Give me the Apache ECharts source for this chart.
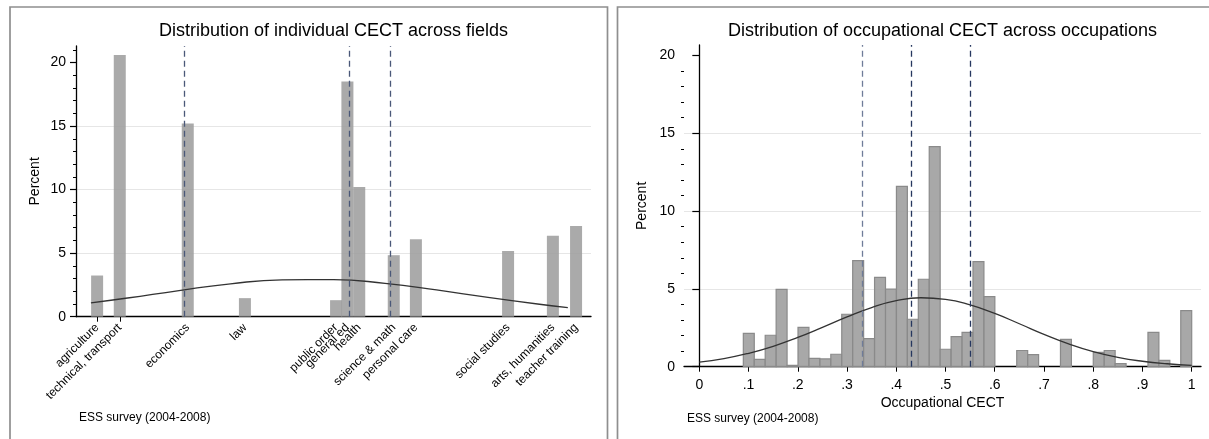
<!DOCTYPE html>
<html><head><meta charset="utf-8">
<script src="https://cdn.jsdelivr.net/npm/echarts@6/dist/echarts.min.js"></script>
<style>html,body{margin:0;padding:0;background:#fff}#c{width:1209px;height:439px}</style>
</head><body><div id="c"></div>
<script>
// ---- Left panel: individual CECT across fields ----
const fieldNames = ["agriculture","technical, transport","economics","law","public order","general ed","health","science & math","personal care","social studies","arts, humanities","teacher training"];
const fieldPos = [0.041,0.085,0.217,0.328,0.505,0.527,0.550,0.617,0.660,0.839,0.926,0.971];
const fieldPct = [3.24,20.6,15.2,1.46,1.3,18.5,10.2,4.84,6.1,5.16,6.36,7.13];
const fieldBarWidth = 0.0233;
const fieldRefLines = [0.2136,0.530,0.606];
const fieldCurveX = [0.029,0.1,0.2,0.3,0.4,0.5,0.6,0.7,0.8,0.9,0.955];
const fieldCurveY = [1.09,1.47,2.06,2.59,2.90,2.92,2.62,2.11,1.52,0.98,0.72];

// ---- Right panel: occupational CECT histogram ----
const occBinStart = 0.0894;
const occBinWidth = 0.02221;
const occPct = [2.14,0.47,2.02,4.97,0.08,2.53,0.54,0.5,0.8,3.37,6.82,1.8,5.74,4.98,11.58,3.05,5.62,14.14,1.12,1.93,2.2,6.75,4.5,0,0,1.04,0.78,0,0,1.76,0,0,0.92,1.04,0.2,0,0,2.2,0.4,0,3.6];
const occRefLines = [0.334,0.4346,0.548];
const occCurveX = [0,0.05,0.1,0.15,0.2,0.25,0.3,0.35,0.4,0.45,0.5,0.55,0.6,0.65,0.7,0.75,0.8,0.85,0.9,0.95,1.0];
const occCurveY = [0.30,0.52,0.86,1.31,1.88,2.53,3.20,3.80,4.24,4.43,4.33,3.97,3.42,2.76,2.08,1.47,0.97,0.60,0.35,0.19,0.09];
const occTickVals = [0,0.1,0.2,0.3,0.4,0.5,0.6,0.7,0.8,0.9,1];
const occTickLabels = ["0",".1",".2",".3",".4",".5",".6",".7",".8",".9","1"];

const yTickVals = [0,5,10,15,20];
const yTickLabels = ["0","5","10","15","20"];
const titles = ["Distribution of individual CECT across fields","Distribution of occupational CECT across occupations"];
const footnote = "ESS survey (2004-2008)";

const FONT = "'Liberation Sans', Arial, Helvetica, sans-serif";
const minorVals = [];
for (let i = 1; i <= 21; i++) if (i % 5) minorVals.push(i);

function rectItem(fill, stroke, lw) {
  return function (params, api) {
    const x0 = api.value(0), x1 = api.value(1), y = api.value(2);
    if (!(y > 0)) return null;
    const p0 = api.coord([x0, y]);
    const p1 = api.coord([x1, 0]);
    return {
      type: 'rect',
      shape: { x: p0[0], y: p0[1], width: p1[0] - p0[0], height: p1[1] - p0[1] },
      style: { fill: fill, stroke: stroke, lineWidth: lw }
    };
  };
}

function yAxes(gridIndex, max, tickLen, margin, gap) {
  return [{
    type: 'value', gridIndex, min: 0, max, interval: 5, position: 'left',
    name: 'Percent', nameLocation: 'middle', nameGap: gap,
    nameTextStyle: { fontSize: 14, color: '#000', fontFamily: FONT },
    axisLine: { show: true, lineStyle: { color: '#000', width: 1.3 } },
    axisTick: { show: true, length: tickLen, customValues: yTickVals, lineStyle: { color: '#000', width: 1.2 } },
    axisLabel: { customValues: yTickVals, formatter: v => yTickLabels[yTickVals.indexOf(v)] ?? '', fontSize: 14, color: '#000', margin, fontFamily: FONT },
    splitLine: { show: true, showMinLine: false, showMaxLine: false, lineStyle: { color: '#e6e6e6', width: 1.2 } }
  }, {
    type: 'value', gridIndex, min: 0, max, position: 'left',
    axisLine: { show: false }, axisLabel: { show: false }, splitLine: { show: false },
    axisTick: { show: true, length: 3, customValues: minorVals, lineStyle: { color: '#000', width: 1 } }
  }];
}

const chart = echarts.init(document.getElementById('c'), null, { renderer: 'canvas' });
const option = {
  animation: false,
  backgroundColor: '#fff',
  grid: [
    { left: 76, top: 46, width: 515, height: 270.7, outerBoundsMode: 'none', containLabel: false },
    { left: 684, top: 45, width: 517, height: 321.7, outerBoundsMode: 'none', containLabel: false }
  ],
  xAxis: [{
    type: 'value', gridIndex: 0, min: 0, max: 1,
    axisLine: { show: true, lineStyle: { color: '#000', width: 1.3 } },
    axisTick: { show: true, length: 5, customValues: fieldPos.slice(0, 2), lineStyle: { color: '#000' } },
    axisLabel: {
      customValues: fieldPos, rotate: 45, fontSize: 12, color: '#000', margin: 9, fontFamily: FONT,
      formatter: v => { const i = fieldPos.findIndex(p => Math.abs(p - v) < 1e-9); return i >= 0 ? fieldNames[i] : ''; }
    },
    splitLine: { show: false }
  }, {
    type: 'value', gridIndex: 1, min: -0.0311, max: 1.0189,
    name: 'Occupational CECT', nameLocation: 'middle', nameGap: 23,
    nameTextStyle: { fontSize: 14, color: '#000', fontFamily: FONT },
    axisLine: { show: true, lineStyle: { color: '#000', width: 1.3 } },
    axisTick: { show: true, length: 5, customValues: occTickVals, lineStyle: { color: '#000' } },
    axisLabel: {
      customValues: occTickVals, fontSize: 14, color: '#000', margin: 11, fontFamily: FONT,
      formatter: v => { const i = occTickVals.findIndex(p => Math.abs(p - v) < 1e-9); return i >= 0 ? occTickLabels[i] : ''; }
    },
    splitLine: { show: false }
  }],
  yAxis: [...yAxes(0, 21.3, 6, 10, 34), ...yAxes(1, 20.67, 7, 9, 35)],
  series: [
    {
      type: 'line', xAxisIndex: 0, yAxisIndex: 0, data: [], z: 1, silent: true,
      markLine: {
        silent: true, symbol: ['none', 'none'], label: { show: false },
        lineStyle: { type: [6, 4], width: 1.3, color: '#4a5878' },
        data: fieldRefLines.map(v => ({ xAxis: v }))
      }
    },
    {
      type: 'custom', xAxisIndex: 0, yAxisIndex: 0, z: 2, silent: true,
      renderItem: rectItem('rgba(155,155,155,0.85)', null, 0),
      encode: { x: [0, 1], y: 2 },
      data: fieldPos.map((x, i) => [x - fieldBarWidth / 2, x + fieldBarWidth / 2, fieldPct[i]])
    },
    {
      type: 'line', xAxisIndex: 0, yAxisIndex: 0, z: 3, smooth: true, showSymbol: false, silent: true,
      lineStyle: { color: '#333', width: 1.3 },
      data: fieldCurveX.map((x, i) => [x, fieldCurveY[i]])
    },
    {
      type: 'line', xAxisIndex: 1, yAxisIndex: 2, data: [], z: 1, silent: true,
      markLine: {
        silent: true, symbol: ['none', 'none'], label: { show: false },
        lineStyle: { type: [6, 4], width: 1.3, color: '#26375f' },
        data: occRefLines.map((v, i) => (i === 0 ? { xAxis: v, lineStyle: { color: '#6f7c99' } } : { xAxis: v }))
      }
    },
    {
      type: 'custom', xAxisIndex: 1, yAxisIndex: 2, z: 2, silent: true,
      renderItem: rectItem('rgba(158,158,158,0.9)', '#8a8a8a', 1.2),
      encode: { x: [0, 1], y: 2 },
      data: occPct.map((v, i) => [occBinStart + i * occBinWidth, occBinStart + (i + 1) * occBinWidth, v])
    },
    {
      type: 'line', xAxisIndex: 1, yAxisIndex: 2, z: 3, smooth: true, showSymbol: false, silent: true,
      lineStyle: { color: '#333', width: 1.3 },
      data: occCurveX.map((x, i) => [x, occCurveY[i]])
    }
  ],
  graphic: [
    { type: 'rect', shape: { x: 10, y: 7, width: 597.5, height: 500 }, style: { fill: 'none', stroke: '#8f8f8f', lineWidth: 1.7 }, silent: true },
    { type: 'rect', shape: { x: 617.5, y: 7, width: 700, height: 500 }, style: { fill: 'none', stroke: '#8f8f8f', lineWidth: 1.7 }, silent: true },
    { type: 'text', x: 333.5, y: 31.5, style: { text: titles[0], fontSize: 18, fontFamily: FONT, fill: '#000', align: 'center', verticalAlign: 'middle' }, silent: true },
    { type: 'text', x: 942.5, y: 31.5, style: { text: titles[1], fontSize: 18, fontFamily: FONT, fill: '#000', align: 'center', verticalAlign: 'middle' }, silent: true },
    { type: 'text', x: 79, y: 418, style: { text: footnote, fontSize: 12, fontFamily: FONT, fill: '#000', align: 'left', verticalAlign: 'middle' }, silent: true },
    { type: 'text', x: 687, y: 419, style: { text: footnote, fontSize: 12, fontFamily: FONT, fill: '#000', align: 'left', verticalAlign: 'middle' }, silent: true }
  ]
};
chart.setOption(option);
</script>
</body></html>
